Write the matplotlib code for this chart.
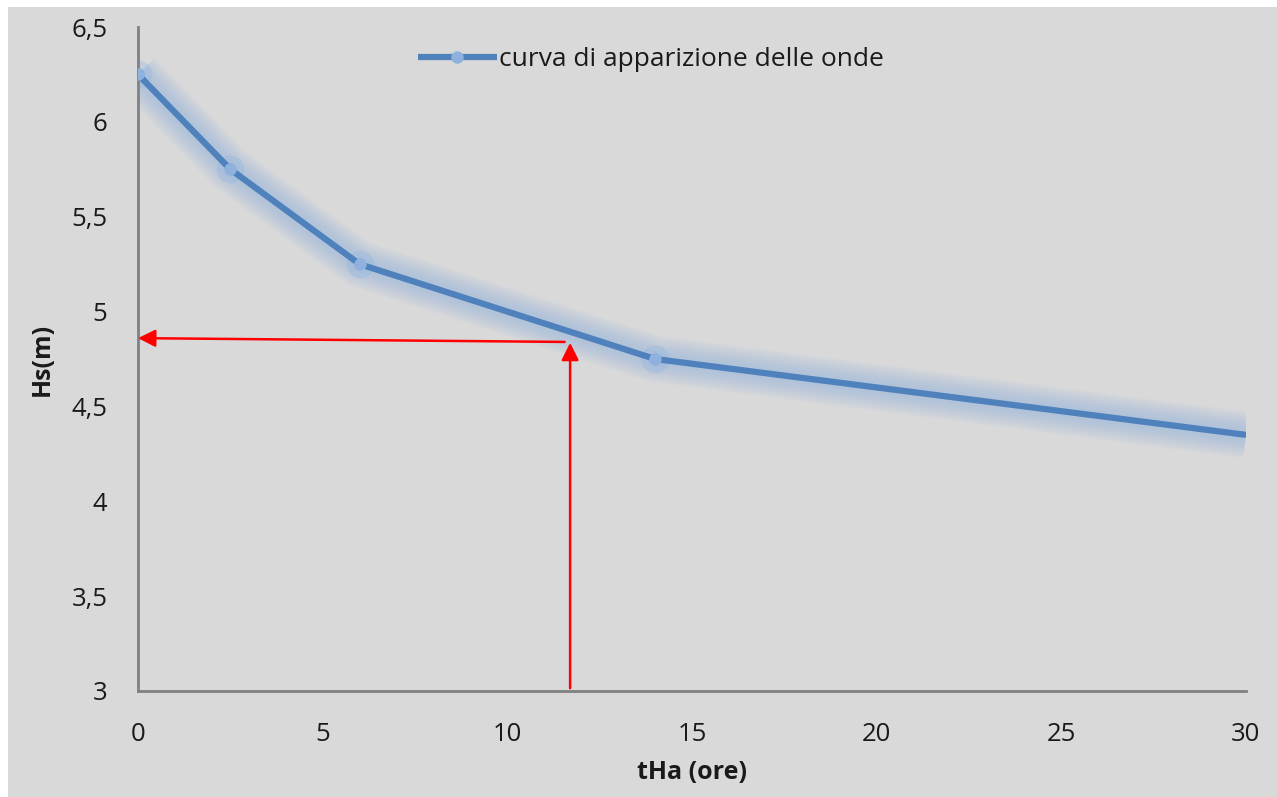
import numpy as np
import matplotlib.pyplot as plt
from matplotlib.patches import Rectangle

# data
t_ore = [0, 2.5, 6, 14, 30]
hs_m = [6.25, 5.75, 5.25, 4.75, 4.35]
t_read = 11.7
hs_read = [4.85, 4.86]

x_ticks = [0, 5, 10, 15, 20, 25, 30]
y_ticks = [3, 3.5, 4, 4.5, 5, 5.5, 6, 6.5]
y_labels = ["3", "3,5", "4", "4,5", "5", "5,5", "6", "6,5"]

plt.rcParams["font.family"] = ["Open Sans", "DejaVu Sans"]

BG = "#d9d9d9"
LINE = "#4f81bd"
GLOW = "#8db3e2"
TXT = "#1a1a1a"

fig = plt.figure(figsize=(12.77, 7.97), dpi=100, facecolor="white")
fig.patches.append(Rectangle((8 / 1277, 0), 1, 1 - 7 / 797, transform=fig.transFigure,
                             facecolor=BG, edgecolor="none", zorder=-10))
ax = fig.add_axes([138 / 1277, 1 - 691 / 797, (1246 - 138) / 1277, (691 - 27) / 797])
ax.set_facecolor(BG)

# soft glow around the series (many faint layers -> smooth falloff)
for lw in range(34, 6, -2):
    ax.plot(t_ore, hs_m, color=GLOW, lw=lw, alpha=0.045, solid_capstyle="butt",
            solid_joinstyle="round", zorder=2)
ax.plot(t_ore[:-1], hs_m[:-1], "o", ms=20, color=GLOW, alpha=0.3, mec="none", zorder=2)
ax.plot(t_ore, hs_m, color=LINE, lw=4.5, solid_capstyle="butt", zorder=3,
        label="curva di apparizione delle onde", marker="o", ms=9,
        markevery=[0, 1, 2, 3], mfc="#8fb1de", mec="none")

# red reading arrows
ax.annotate("", xy=(t_read, hs_read[0]), xytext=(t_read, y_ticks[0]),
            arrowprops=dict(arrowstyle="-|>", color="red", lw=1.8, mutation_scale=26),
            zorder=4)
ax.annotate("", xy=(0, hs_read[1]), xytext=(t_read - 0.15, hs_read[0] - 0.01),
            arrowprops=dict(arrowstyle="-|>", color="red", lw=1.8, mutation_scale=26,
                            shrinkA=0, shrinkB=0),
            zorder=4)

ax.set_xlim(0, 30)
ax.set_ylim(3, 6.5)
ax.set_xticks(x_ticks)
ax.set_yticks(y_ticks)
ax.set_yticklabels(y_labels)
ax.tick_params(length=0, labelsize=18.5, colors=TXT, pad=22)
ax.tick_params(axis="y", pad=22)
for side in ["top", "right"]:
    ax.spines[side].set_visible(False)
for side in ["left", "bottom"]:
    ax.spines[side].set_color("#808080")
    ax.spines[side].set_linewidth(2)

ax.set_xlabel("tHa (ore)", fontsize=18, fontweight="bold", color=TXT, labelpad=10)
ax.set_ylabel("Hs(m)", fontsize=18, fontweight="bold", color=TXT, labelpad=12)

leg = ax.legend(loc="upper center", bbox_to_anchor=(0.463, 1.005), frameon=False,
                fontsize=19, handlelength=3.0, handletextpad=0.1)
for txt in leg.get_texts():
    txt.set_color(TXT)

fig.savefig("out.png", dpi=100, facecolor=fig.get_facecolor())
